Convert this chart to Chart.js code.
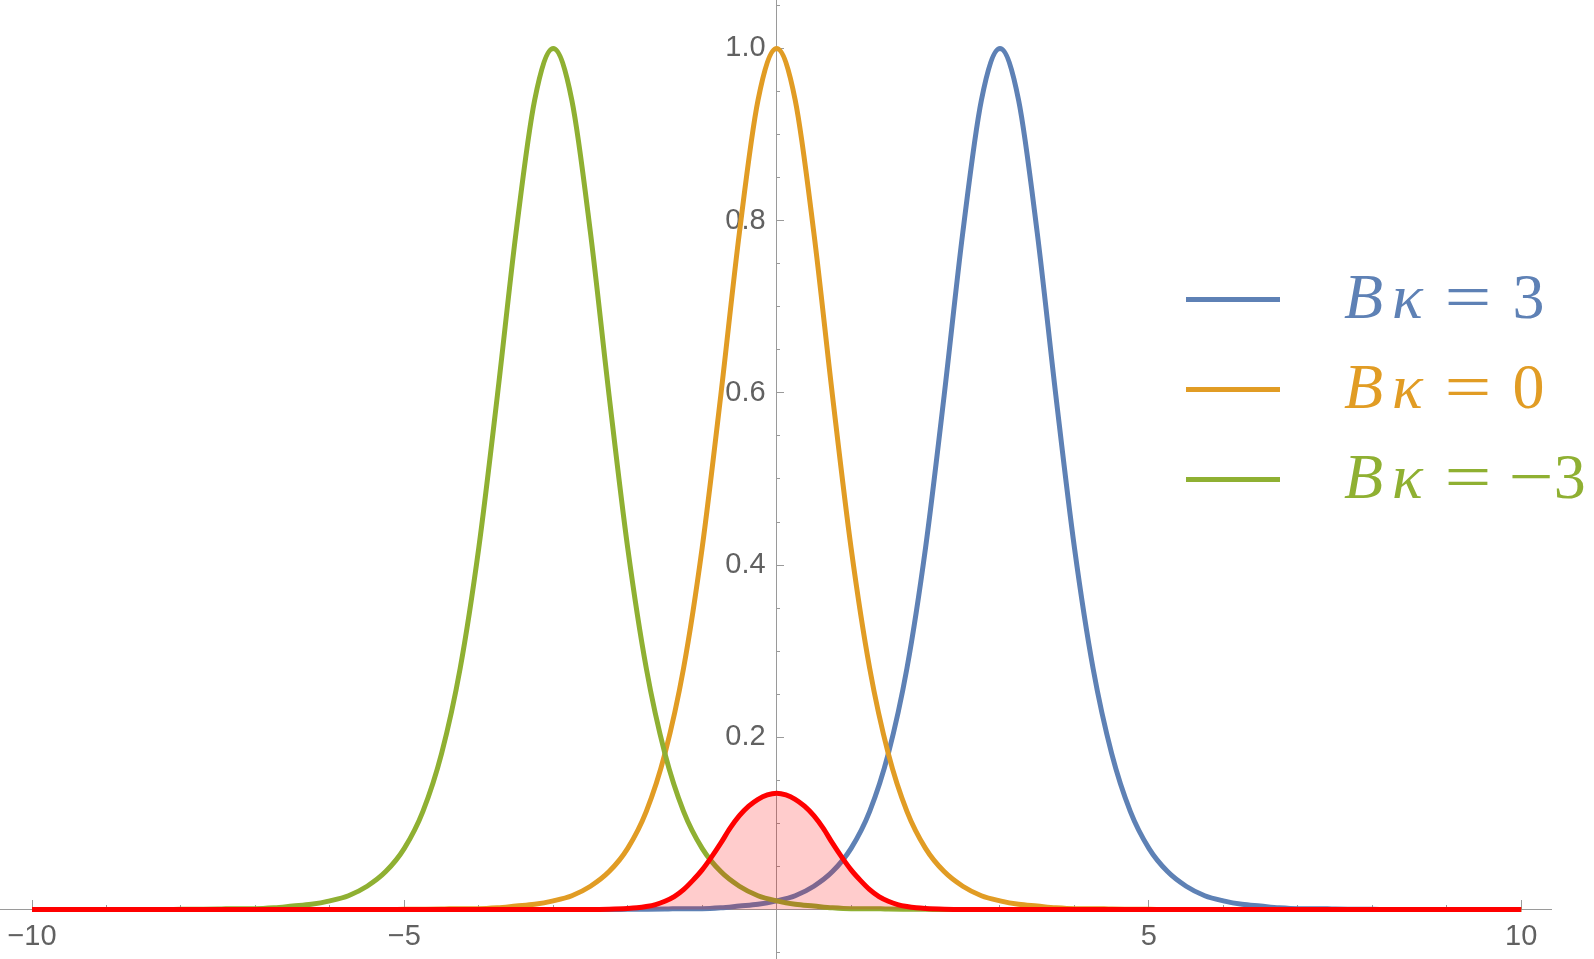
<!DOCTYPE html>
<html>
<head>
<meta charset="utf-8">
<script src="https://cdn.jsdelivr.net/npm/chart.js@4.4.0/dist/chart.umd.min.js"></script>
<style>
  body { margin: 0; background: #fff; }
  #wrap { position: relative; width: 1594px; height: 959px; overflow: hidden; }
  #plot { position: absolute; left: 0; top: 0; }
  .key { position: absolute; left: 1186px; width: 94px; height: 5px; }
  .lab { position: absolute; left: 1344px; font-family: 'Liberation Serif', serif; font-size: 64px; line-height: 64px; white-space: nowrap; }
  .lab i { font-style: italic; }
  .lab .k { margin-left: 0.14em; }
  .lab .op { display: inline-block; transform: scaleX(1.3); margin: 0 0.42em; }
  .lab .neg { display: inline-block; transform: scaleX(1.25); margin-right: 0.08em; }
</style>
</head>
<body>
<div id="wrap">
  <canvas id="plot" width="1594" height="959"></canvas>
  <div id="legend"></div>
</div>
<script>
// sample positions along x
const xValues = [
  -10, -9.75, -9.5, -9.25, -9, -8.75, -8.5, -8.25, -8, -7.75,
  -7.5, -7.25, -7, -6.75, -6.5, -6.25, -6, -5.75, -5.5, -5.25,
  -5, -4.75, -4.5, -4.25, -4, -3.75, -3.5, -3.25, -3, -2.75,
  -2.5, -2.25, -2, -1.75, -1.5, -1.25, -1, -0.75, -0.5, -0.25,
  0, 0.25, 0.5, 0.75, 1, 1.25, 1.5, 1.75, 2, 2.25,
  2.5, 2.75, 3, 3.25, 3.5, 3.75, 4, 4.25, 4.5, 4.75,
  5, 5.25, 5.5, 5.75, 6, 6.25, 6.5, 6.75, 7, 7.25,
  7.5, 7.75, 8, 8.25, 8.5, 8.75, 9, 9.25, 9.5, 9.75,
  10
];

// B kappa = 3
const blueValues = [
  0, 0, 0, 0, 0, 0, 0, 0, 0, 0,
  0, 0, 0, 0, 0, 0, 0, 0, 0, 0,
  0, 0, 0, 0, 0, 0, 0, 0, 0, 0,
  0, 0, 0.0002, 0.0003, 0.0005, 0.001, 0.001, 0.002, 0.004, 0.006,
  0.010, 0.016, 0.027, 0.044, 0.071, 0.114, 0.181, 0.280, 0.420, 0.597,
  0.786, 0.940, 1.000, 0.940, 0.786, 0.597, 0.420, 0.280, 0.181, 0.114,
  0.071, 0.044, 0.027, 0.016, 0.010, 0.006, 0.004, 0.002, 0.001, 0.001,
  0.0005, 0.0003, 0.0002, 0, 0, 0, 0, 0, 0, 0,
  0
];

// B kappa = 0
const orangeValues = [
  0, 0, 0, 0, 0, 0, 0, 0, 0, 0,
  0, 0, 0, 0, 0, 0, 0, 0, 0, 0,
  0.0002, 0.0003, 0.0005, 0.001, 0.001, 0.002, 0.004, 0.006, 0.010, 0.016,
  0.027, 0.044, 0.071, 0.114, 0.181, 0.280, 0.420, 0.597, 0.786, 0.940,
  1.000, 0.940, 0.786, 0.597, 0.420, 0.280, 0.181, 0.114, 0.071, 0.044,
  0.027, 0.016, 0.010, 0.006, 0.004, 0.002, 0.001, 0.001, 0.0005, 0.0003,
  0.0002, 0, 0, 0, 0, 0, 0, 0, 0, 0,
  0, 0, 0, 0, 0, 0, 0, 0, 0, 0,
  0
];

// B kappa = -3
const greenValues = [
  0, 0, 0, 0, 0, 0, 0, 0, 0.0002, 0.0003,
  0.0005, 0.001, 0.001, 0.002, 0.004, 0.006, 0.010, 0.016, 0.027, 0.044,
  0.071, 0.114, 0.181, 0.280, 0.420, 0.597, 0.786, 0.940, 1.000, 0.940,
  0.786, 0.597, 0.420, 0.280, 0.181, 0.114, 0.071, 0.044, 0.027, 0.016,
  0.010, 0.006, 0.004, 0.002, 0.001, 0.001, 0.0005, 0.0003, 0.0002, 0,
  0, 0, 0, 0, 0, 0, 0, 0, 0, 0,
  0, 0, 0, 0, 0, 0, 0, 0, 0, 0,
  0, 0, 0, 0, 0, 0, 0, 0, 0, 0,
  0
];

// filled red bump, read on a finer grid around its peak
const redXValues = [
  -10, -2.5, -2.25, -2, -1.875, -1.75, -1.625, -1.5, -1.375, -1.25,
  -1.125, -1, -0.875, -0.75, -0.625, -0.5, -0.375, -0.25, -0.125, 0,
  0.125, 0.25, 0.375, 0.5, 0.625, 0.75, 0.875, 1, 1.125, 1.25,
  1.375, 1.5, 1.625, 1.75, 1.875, 2, 2.25, 2.5, 10
];
const redValues = [
  0, 0, 0.0003, 0.0011, 0.0019, 0.0034, 0.0057, 0.0095, 0.0149, 0.023,
  0.0338, 0.046, 0.0608, 0.077, 0.0945, 0.109, 0.120, 0.128, 0.133, 0.135,
  0.133, 0.128, 0.120, 0.109, 0.0945, 0.077, 0.0608, 0.046, 0.0338, 0.023,
  0.0149, 0.0095, 0.0057, 0.0034, 0.0019, 0.0011, 0.0003, 0, 0
];

const legendValues = ['3', '0', '\u22123'];
const xTickLabels = [-10, -5, 5, 10];
const yTickLabels = [0.2, 0.4, 0.6, 0.8, 1.0];

const xMin = -10.43, xMax = 10.4;
const yMin = -0.0575, yMax = 1.0563;

const blue = 'rgb(94,129,181)';
const orange = 'rgb(225,156,36)';
const green = 'rgb(143,176,50)';
const red = 'rgb(255,0,0)';
const axisColor = '#9a9a9a';
const labelColor = '#616161';
const tickFont = { family: "'Liberation Sans', Arial, sans-serif", size: 29 };

function pts(xs, values) {
  return xs.map((x, i) => ({ x: x, y: values[i] }));
}

function line(label, xs, values, color, order) {
  return {
    label: label,
    data: pts(xs, values),
    borderColor: color,
    borderWidth: 5,
    pointRadius: 0,
    fill: false,
    cubicInterpolationMode: 'monotone',
    order: order
  };
}

const redSet = line('red', redXValues, redValues, red, 0);
redSet.fill = 'origin';
redSet.backgroundColor = 'rgba(255,0,0,0.2)';

// axes sit inside the plot, so they should not push the plot area in
function noPadding(scale) {
  scale.paddingTop = 0;
  scale.paddingBottom = 0;
  scale.paddingLeft = 0;
  scale.paddingRight = 0;
}

function tickAxis(axis, pos, min, max, step, len, showBorder) {
  return {
    type: 'linear', axis: axis, position: pos, min: min, max: max,
    afterFit: noPadding,
    ticks: { display: false, stepSize: step, includeBounds: false, maxTicksLimit: 1000, autoSkip: false },
    grid: { drawOnChartArea: false, drawTicks: true, tickLength: len, tickColor: axisColor, tickWidth: 1 },
    border: { display: showBorder, color: axisColor, width: 1 }
  };
}

function labelAxis(axis, pos, min, max, step, len, labels, fmt) {
  return {
    type: 'linear', axis: axis, position: pos, min: min, max: max,
    afterFit: noPadding,
    ticks: {
      display: true, stepSize: step, includeBounds: false, maxTicksLimit: 1000, autoSkip: false,
      padding: 0, color: labelColor, font: tickFont, maxRotation: 0,
      callback: function (v) {
        const hit = labels.find(l => Math.abs(l - v) < 1e-6);
        return hit === undefined ? null : fmt(hit);
      }
    },
    grid: { display: false, drawTicks: true, tickLength: len },
    border: { display: false }
  };
}

new Chart(document.getElementById('plot').getContext('2d'), {
  type: 'line',
  data: {
    datasets: [
      redSet,
      line('B\u03ba = \u22123', xValues, greenValues, green, 1),
      line('B\u03ba = 0', xValues, orangeValues, orange, 2),
      line('B\u03ba = 3', xValues, blueValues, blue, 3)
    ]
  },
  options: {
    responsive: false,
    animation: false,
    events: [],
    layout: { padding: { left: 0, top: 0, right: 43, bottom: 0 } },
    plugins: { legend: { display: false }, tooltip: { enabled: false } },
    scales: {
      x: tickAxis('x', { y: 0 }, xMin, xMax, 1, -5, true),
      xMajor: tickAxis('x', { y: 0 }, xMin, xMax, 5, -9, false),
      xLabels: labelAxis('x', { y: 0 }, xMin, xMax, 5, 10, xTickLabels,
        v => v < 0 ? '\u2212' + Math.abs(v) : String(v)),
      y: tickAxis('y', { x: 0 }, yMin, yMax, 0.05, -4, true),
      yMajor: tickAxis('y', { x: 0 }, yMin, yMax, 0.2, -7, false),
      yLabels: labelAxis('y', { x: -0.148 }, yMin, yMax, 0.05, 0, yTickLabels,
        v => v.toFixed(1))
    }
  }
});

// legend: short line sample then the math label
const legendColors = [blue, orange, green];
const legendRows = [299, 389, 479];
const legend = document.getElementById('legend');
legendValues.forEach(function (val, i) {
  const key = document.createElement('div');
  key.className = 'key';
  key.style.top = (legendRows[i] - 2.5) + 'px';
  key.style.background = legendColors[i];
  legend.appendChild(key);

  const lab = document.createElement('div');
  lab.className = 'lab';
  lab.style.top = (legendRows[i] + 20 - 54) + 'px';
  lab.style.color = legendColors[i];
  let num = val;
  if (val.charAt(0) === '\u2212') {
    num = '<span class="neg">\u2212</span>' + val.slice(1);
  }
  lab.innerHTML = '<i>B</i><i class="k">\u03ba</i><span class="op">=</span>' + num;
  legend.appendChild(lab);
});
</script>
</body>
</html>
